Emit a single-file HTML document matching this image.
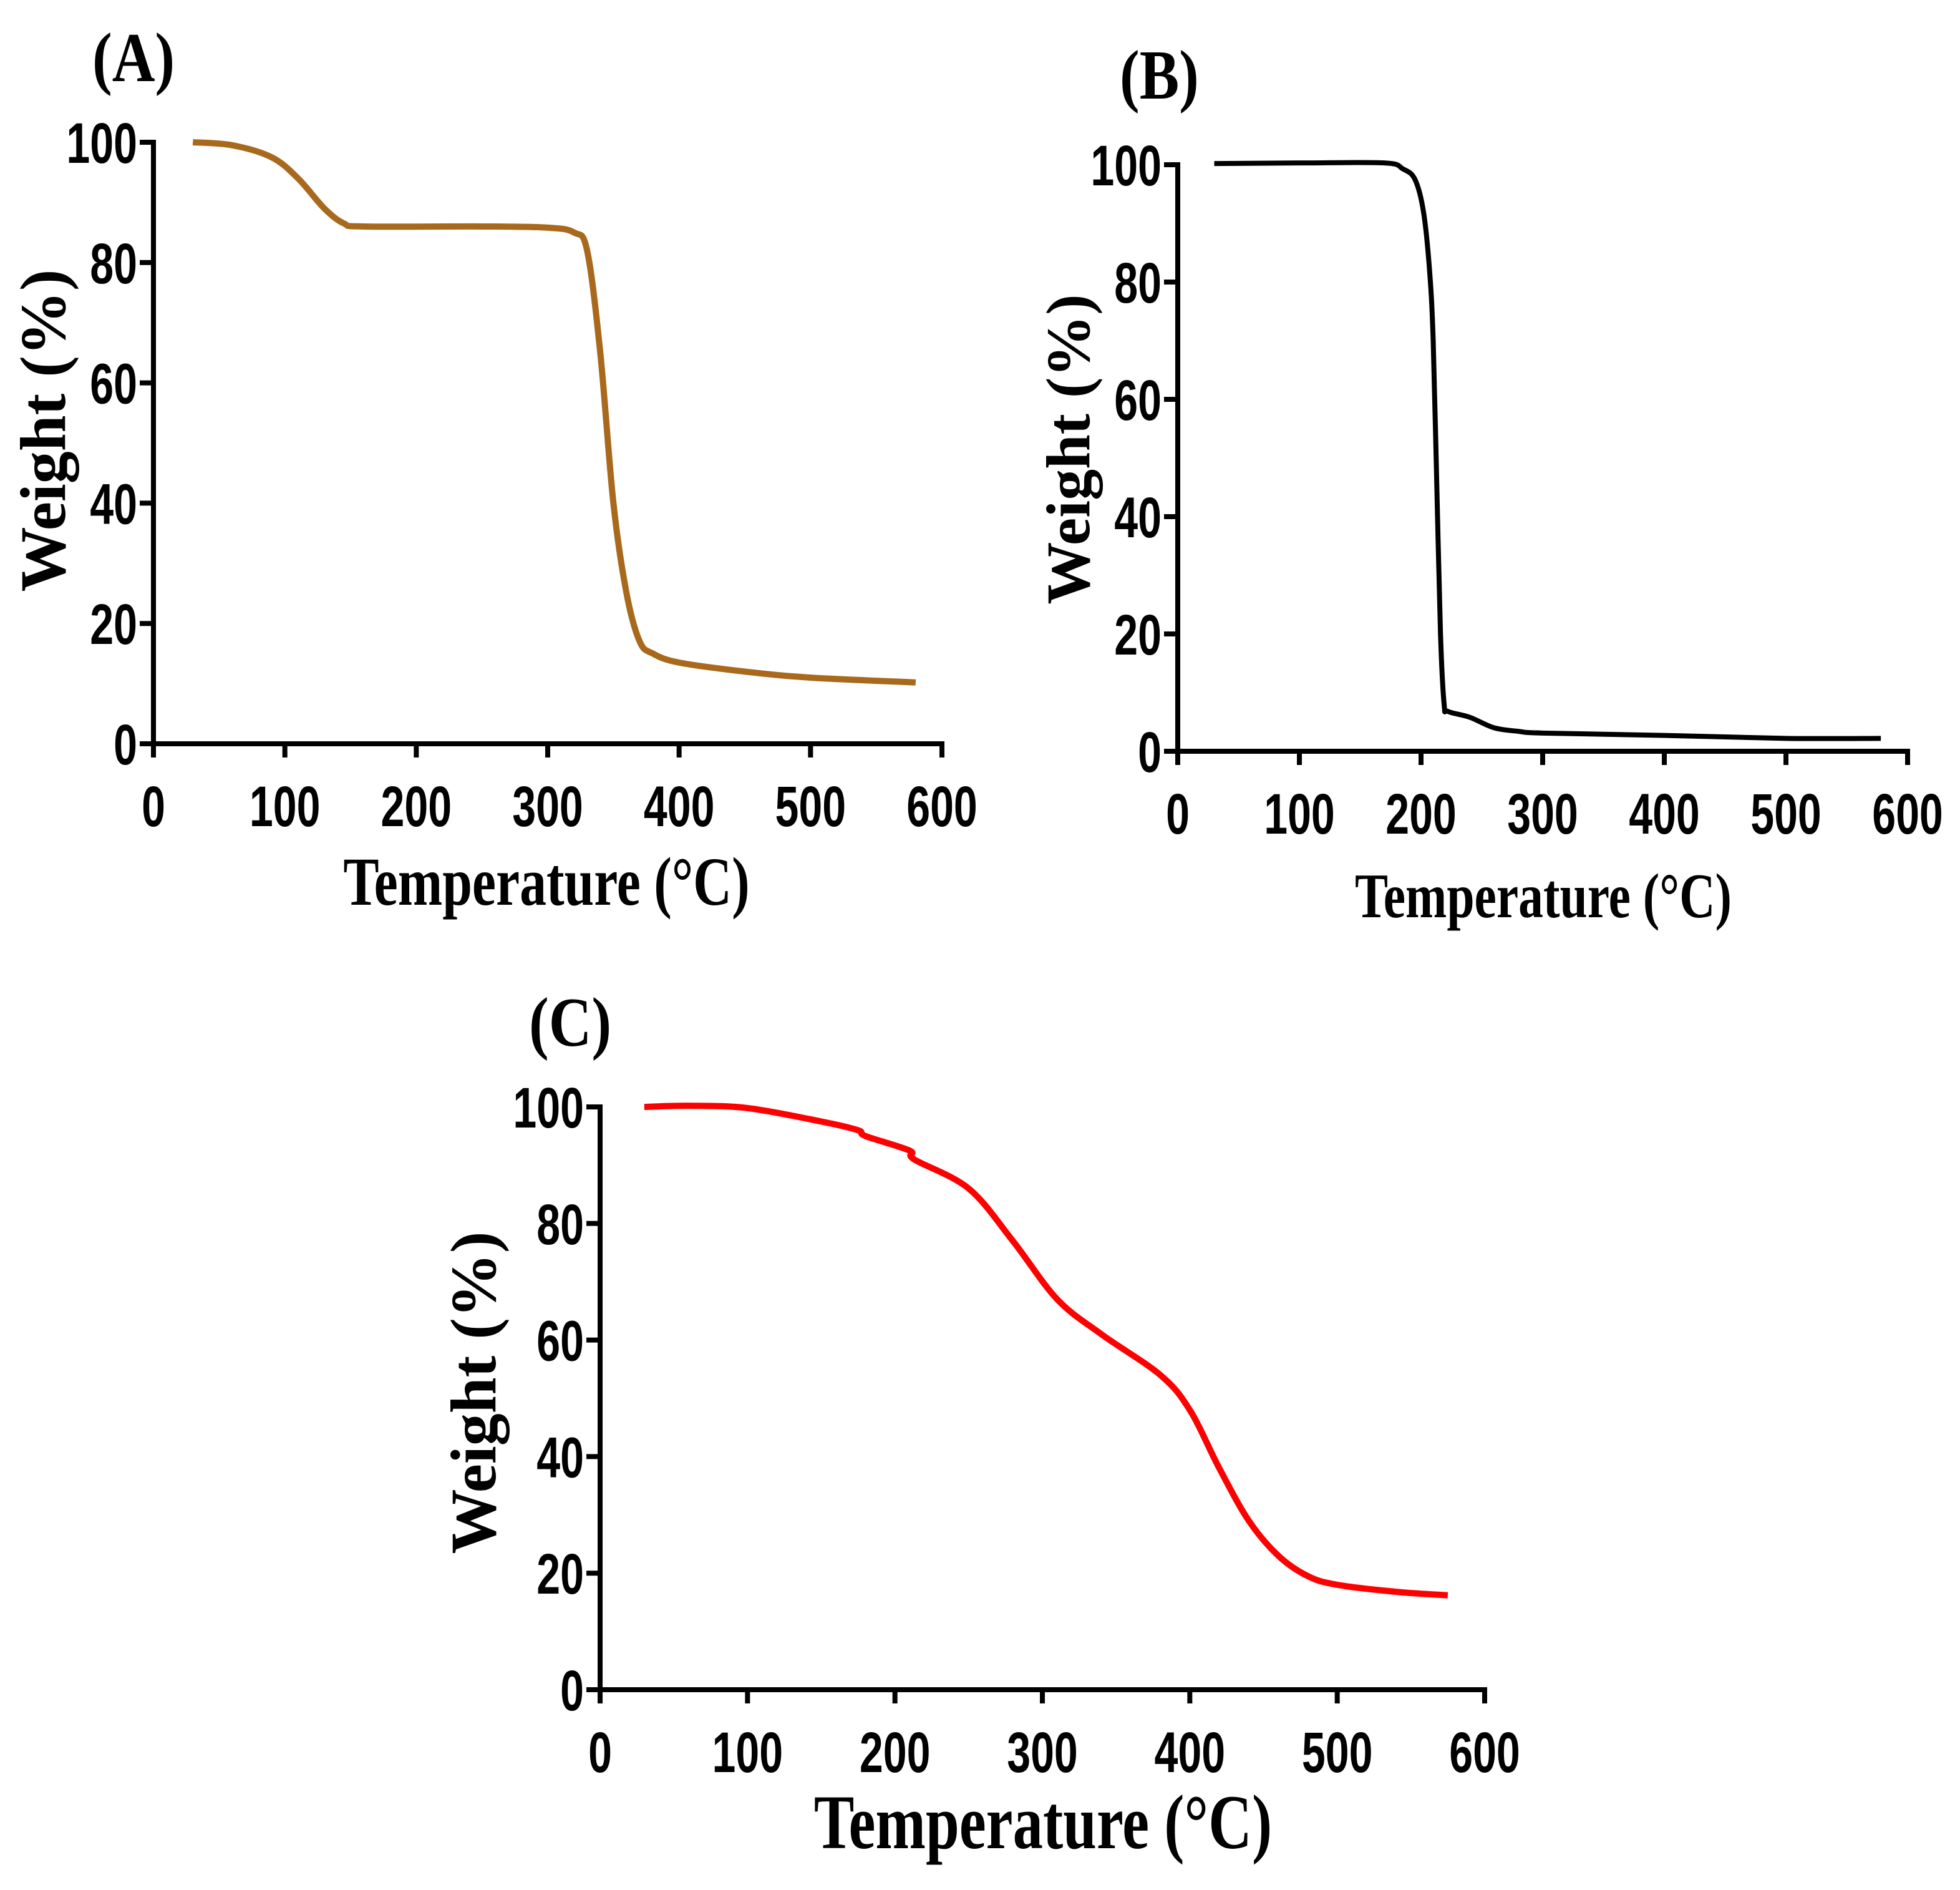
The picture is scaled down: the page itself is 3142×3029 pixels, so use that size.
<!DOCTYPE html>
<html><head><meta charset="utf-8">
<style>
html,body{margin:0;padding:0;background:#fff;}
svg{display:block;}
.tick{font-family:"Liberation Sans",sans-serif;font-weight:bold;font-size:92px;fill:#000;}
.title{font-family:"Liberation Serif",serif;font-weight:bold;fill:#000;}
</style></head>
<body>
<svg id="fig" width="3142" height="3029" viewBox="0 0 3142 3029" xmlns="http://www.w3.org/2000/svg"></svg>
<script>
const xTicks = [0,100,200,300,400,500,600];
const yTicks = [0,20,40,60,80,100];
const tempA = [30,60,90,110,130,145,160,250,300,320,330,340,350,360,370,380,400,450,500,580];
const weightA = [100,99.5,97.5,94,89,86.5,86,86,85.8,85,82,65,40,25,17,15,13.5,12,11,10.2];
const tempB = [30,100,170,185,195,202,207,210,213,216,219,222,240,260,280,300,400,500,578];
const weightB = [100.2,100.3,100.3,99.3,97.5,92,82,70,45,20,8,6.8,5.8,4,3.4,3.1,2.7,2.2,2.2];
const tempC = [30,60,100,150,175,180,210,213,250,280,310,340,380,400,420,440,460,480,500,540,575];
const weightC = [100,100.2,99.8,97.5,96,95,92.5,91,86,77,67,61,54,48,38,29,23,19.5,18,16.8,16.2];

const NS = "http://www.w3.org/2000/svg";
const svg = document.getElementById('fig');
function mk(tag, attrs, parent){
  const e = document.createElementNS(NS, tag);
  for (const k in attrs) e.setAttribute(k, attrs[k]);
  (parent||svg).appendChild(e);
  return e;
}
const panels = [
  {id:'a', x0:246, x1:1510, y0:1192, y1:228, t:tempA, w:weightA, color:'#a8691d', label:'(A)', lx:148, ly:130, ytx:70, yty:690, xtx:876, xty:1450, xfs:110, yfs:104, sw:10},
  {id:'b', x0:1888, x1:3058, y0:1204, y1:264, t:tempB, w:weightB, color:'#000000', label:'(B)', lx:1795, ly:158, ytx:1712, yty:720, xtx:2474, xty:1470, xfs:102, yfs:100, sw:8},
  {id:'c', x0:962, x1:2380, y0:2708, y1:1774, t:tempC, w:weightC, color:'#ff0000', label:'(C)', lx:848, ly:1676, ytx:760, yty:2232, xtx:1672, xty:2962, xfs:124, yfs:104, sw:10}
];
panels.forEach(p => {
  const g = mk('g', {});
  
  
  const sx = v => p.x0 + (p.x1 - p.x0) * v / 600;
  const sy = v => p.y0 + (p.y1 - p.y0) * v / 100;
  const ax = mk('line', {x1:p.x0, y1:p.y0, x2:p.x1+4, y2:p.y0, stroke:'#000','stroke-width':8}, g);
  
  
  const ay = mk('line', {x1:p.x0, y1:p.y0+4, x2:p.x0, y2:p.y1-4, stroke:'#000','stroke-width':8}, g);
  
  
  xTicks.forEach(v => {
    const X = sx(v);
    mk('line', {x1:X, y1:p.y0, x2:X, y2:p.y0+22, stroke:'#000','stroke-width':8}, g);
    const t = mk('text', {x:0, y:0, 'class':'tick', 'text-anchor':'middle', transform:`translate(${X},${p.y0+132}) scale(0.74,1)`}, g);
    t.textContent = v;
    
    
  });
  yTicks.forEach(v => {
    const Y = sy(v);
    mk('line', {x1:p.x0-22, y1:Y, x2:p.x0, y2:Y, stroke:'#000','stroke-width':8}, g);
    const t = mk('text', {x:0, y:0, 'class':'tick', 'text-anchor':'end', transform:`translate(${p.x0-26},${Y+33}) scale(0.74,1)`}, g);
    t.textContent = v;
    
    
  });
  const pts = p.t.map((v,i) => [sx(v), sy(p.w[i])]);
  let d = `M${pts[0][0]},${pts[0][1]}`;
  for (let i=0;i<pts.length-1;i++){
    const p0 = pts[Math.max(0,i-1)], p1 = pts[i], p2 = pts[i+1], p3 = pts[Math.min(pts.length-1,i+2)];
    const c1 = [p1[0]+(p2[0]-p0[0])/6, p1[1]+(p2[1]-p0[1])/6];
    const c2 = [p2[0]-(p3[0]-p1[0])/6, p2[1]-(p3[1]-p1[1])/6];
    d += ` C${c1[0]},${c1[1]} ${c2[0]},${c2[1]} ${p2[0]},${p2[1]}`;
  }
  const path = mk('path', {d:d, fill:'none', stroke:p.color, 'stroke-width':p.sw, 'stroke-linejoin':'round','stroke-linecap':'butt'}, g);
  
  
  const lab = mk('text', {x:0, y:0, 'class':'title', 'font-size':112, transform:`translate(${p.lx},${p.ly}) scale(0.85,1)`}, g);
  lab.textContent = p.label;
  
  
  const xt = mk('text', {x:0, y:0, 'class':'title', 'font-size':p.xfs, 'text-anchor':'middle', transform:`translate(${p.xtx},${p.xty}) scale(0.78,1)`}, g);
  xt.textContent = 'Temperature (°C)';
  
  
  const yt = mk('text', {x:0, y:0, 'class':'title', 'font-size':p.yfs, 'text-anchor':'middle', transform:`translate(${p.ytx+34},${p.yty}) rotate(-90)`}, g);
  yt.textContent = 'Weight (%)';
  
  
});
</script>
</body></html>
